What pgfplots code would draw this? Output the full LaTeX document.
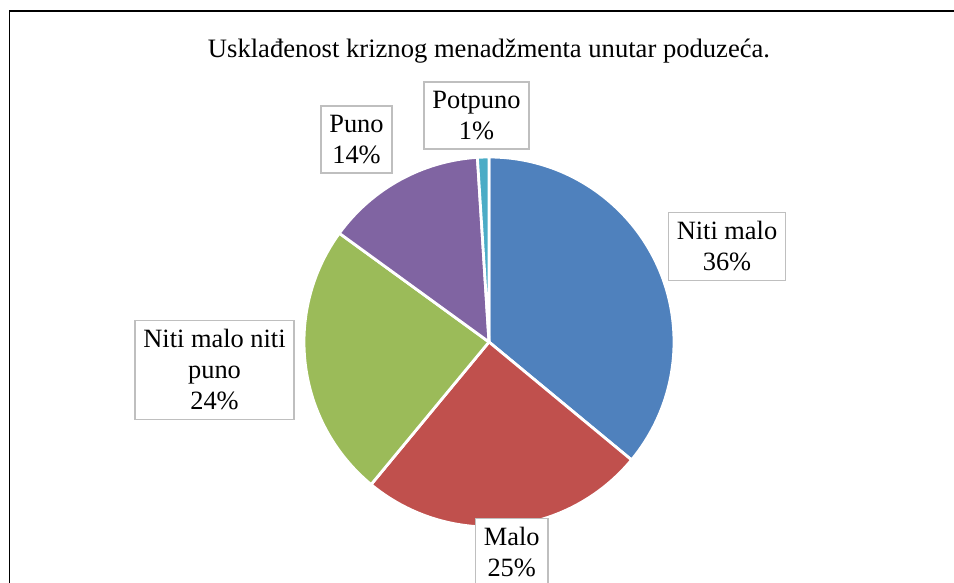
\documentclass[border=0pt]{standalone}
\usepackage{pgfplots}
\pgfplotsset{compat=1.18}
\usepackage{fontspec}
\setmainfont{Liberation Serif}
\definecolor{cblue}{HTML}{4F81BD}
\definecolor{cred}{HTML}{C0504D}
\definecolor{cgreen}{HTML}{9BBB59}
\definecolor{cpurple}{HTML}{8064A2}
\definecolor{ccyan}{HTML}{4BACC6}
\definecolor{boxgray}{HTML}{BFBFBF}
\begin{document}
\begin{tikzpicture}
\useasboundingbox (0,0) rectangle (477pt,291.5pt);
\clip (0,0) rectangle (477pt,291.5pt);
\begin{axis}[hide axis, x=0.5pt, y=0.5pt, xmin=0, xmax=954, ymin=0, ymax=583,
  y dir=reverse, anchor=south west, at={(0,0)}, clip=false]
\xdef\angA{90}
\foreach \v/\c in {36/cblue,25/cred,24/cgreen,14/cpurple,1/ccyan}{
  \pgfmathsetmacro\angB{\angA-3.6*\v}
  \edef\temp{\noexpand\fill[\c, draw=white, line width=1.4pt, line join=round]
    (axis cs:489,342) -- ++(\angA:92.5pt) arc[start angle=\angA, end angle=\angB, radius=92.5pt] -- cycle;}
  \temp
  \xdef\angA{\angB}
}
\draw[line width=0.7pt] (axis cs:9.5,590) -- (axis cs:9.5,11) -- (axis cs:960,11);
\node[anchor=base, font=\fontsize{13.3}{15.5}\selectfont] at (axis cs:489,58) {Usklađenost kriznog menadžmenta unutar poduzeća.};
\tikzset{lab/.style={draw=boxgray, line width=0.75pt, fill=white, align=center,
  font=\fontsize{13.2}{15.5}\selectfont, inner xsep=4.25pt, inner ysep=4.5pt}}
\node[lab] at (axis cs:727,246.5) {Niti malo\\36\%};
\node[lab] at (axis cs:476.5,115.5) {Potpuno\\1\%};
\node[lab] at (axis cs:356.5,139.5) {Puno\\14\%};
\node[lab] at (axis cs:214.5,370) {Niti malo niti\\puno\\24\%};
\node[lab] at (axis cs:511.7,552.5) {Malo\\25\%};
\end{axis}
\end{tikzpicture}
\end{document}
